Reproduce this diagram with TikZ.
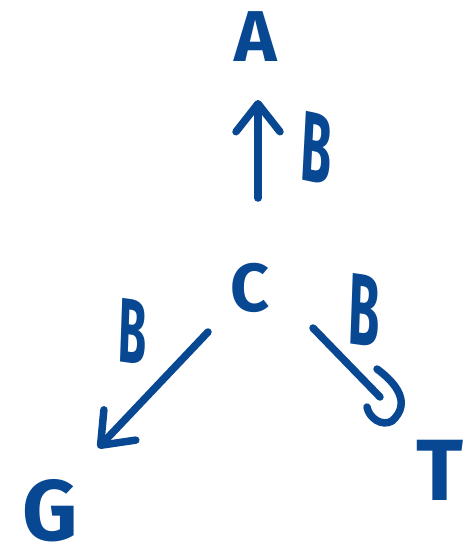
\documentclass[tikz,border=0pt]{standalone}
\usepackage{fontspec}
\setsansfont{Fira Sans}
\usetikzlibrary{arrows.meta,calc}
\definecolor{ink}{RGB}{8,72,146}
\begin{document}
\begin{tikzpicture}[x=1pt,y=-1pt,
  letter/.style={text=ink, inner sep=0pt, outer sep=0pt},
  hand/.style={draw=ink, line width=7.5pt, line cap=round, line join=round},
  barb/.style={-{Straight Barb[length=28pt,width=44pt,round]}}]
\useasboundingbox (0,0) rectangle (464,555);
\clip (0,0) rectangle (464,555);
% nodes
\node[letter, font=\sffamily\bfseries\fontsize{72}{72}\selectfont] (A) at (256,37) {A};
\node[letter, font=\sffamily\bfseries\fontsize{68}{68}\selectfont] (C) at (250,288) {C};
\node[letter, font=\sffamily\bfseries\fontsize{86}{86}\selectfont] (G) at (50,511) {G};
\node[letter, font=\sffamily\bfseries\fontsize{87}{87}\selectfont] (T) at (440,470) {T};
% edge labels
\node[letter, xscale=0.5, rotate=-6, font=\sffamily\bfseries\fontsize{100}{100}\selectfont] (bA) at (317,148) {B};
\node[letter, xscale=0.5, rotate=-4, font=\sffamily\bfseries\fontsize{92}{92}\selectfont] (bG) at (133,332) {B};
\node[letter, xscale=0.5, rotate=-4, font=\sffamily\bfseries\fontsize{102}{102}\selectfont] (bT) at (364,310) {B};
% connectors
\draw[hand,barb] ($(C)+(8,-90)$) -- ($(A)+(2,63)$);
\draw[hand,barb] ($(C)+(-42,44)$) -- ($(G)+(48,-63)$);
\coordinate (r) at ($(T)+(-60,-73)$);
\draw[hand] ($(C)+(63,40)$) -- (r);
\draw[hand] ($(r)+(-3,-28)$) .. controls ($(r)+(16,-14)$) and ($(r)+(32,6)$) .. ($(r)+(12,24)$)
  .. controls ($(r)+(2,30)$) and ($(r)+(-11,21)$) .. ($(r)+(-13,10)$);
\end{tikzpicture}
\end{document}
